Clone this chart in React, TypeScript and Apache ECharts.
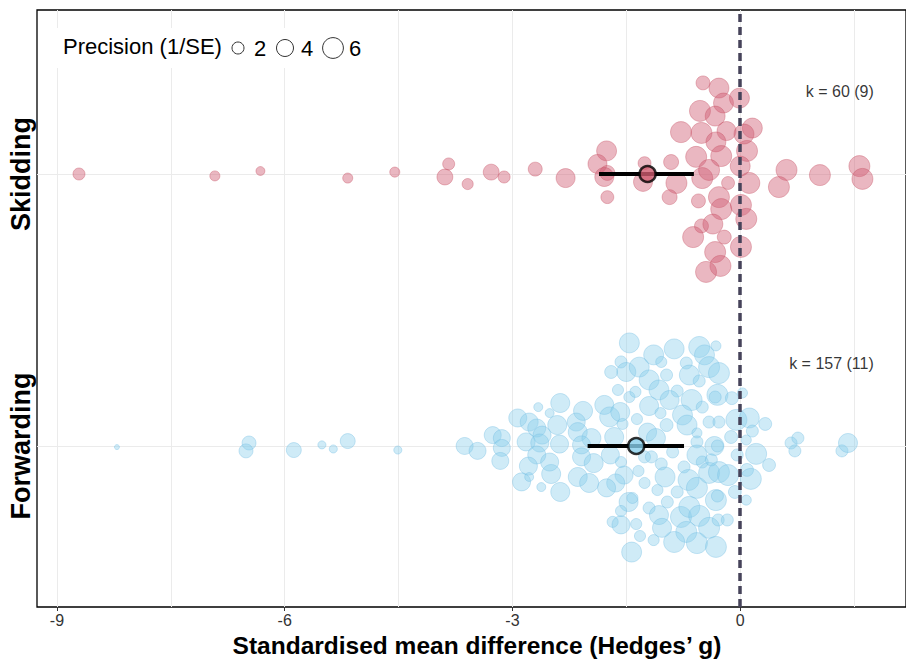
import React, { useEffect, useRef } from "react";
import * as echarts from "echarts";

// Groups sit at y = 1 (Forwarding) and y = 2 (Skidding)
const groups = ["Forwarding", "Skidding"];
const kLabels = ["k = 157 (11)", "k = 60 (9)"];
const kLabelX = 1.76;
const kLabelOffset = 0.303;
const baseColors = ["#87CEEB", "#CF5C71"];
const bubbleColors = ["rgba(135,206,235,0.5)", "rgba(207,92,113,0.55)"];
const bubbleBorders = ["rgba(115,188,225,0.6)", "rgba(198,78,98,0.6)"];
const meanEst = [-1.37, -1.22];
const ciLow = [-2.01, -1.86];
const ciHigh = [-0.74, -0.61];

const xTicks = [-9, -6, -3, 0];
const xGrid = [-9, -7.5, -6, -4.5, -3, -1.5, 0, 1.5];
const yTicks = [1, 2];
const legendValues = [2, 4, 6];
const xTitle = "Standardised mean difference (Hedges\u2019 g)";
const legendTitle = "Precision (1/SE)";

// [Hedges' g, vertical jitter, precision (1/SE)]
const skidding: number[][] = [
  [-8.71, 0.0, 2.0], [-6.92, -0.007, 1.4], [-6.32, 0.011, 1.1], [-5.17, -0.015, 1.4],
  [-4.55, 0.007, 1.4], [-3.84, 0.037, 2.0], [-3.89, -0.011, 3.5], [-3.59, -0.037, 1.7],
  [-3.28, 0.007, 3.5], [-3.11, -0.011, 2.0], [-2.7, 0.018, 2.7], [-2.3, -0.015, 5.0],
  [-1.76, 0.085, 5.5], [-1.88, 0.037, 5.0], [-1.75, 0.004, 3.1], [-1.79, -0.011, 5.0],
  [-1.75, -0.085, 2.3], [-1.26, 0.04, 2.3], [-1.28, -0.029, 5.0], [-0.91, 0.044, 3.1],
  [-0.84, -0.033, 6.1], [-0.93, -0.085, 3.1], [-0.78, 0.154, 6.1], [-0.58, 0.063, 6.1],
  [-0.5, -0.015, 6.1], [-0.55, -0.099, 2.7], [-0.49, 0.335, 2.7], [-0.28, 0.316, 5.5],
  [-0.22, 0.261, 5.5], [-0.01, 0.279, 5.5], [-0.53, 0.232, 6.1], [-0.33, 0.213, 5.5],
  [-0.51, 0.151, 6.1], [-0.18, 0.158, 5.0], [-0.32, 0.118, 5.5], [0.16, 0.169, 5.5],
  [0.09, 0.085, 6.1], [-0.25, 0.066, 6.1], [-0.41, 0.015, 6.1], [0.0, 0.029, 5.5],
  [-0.16, -0.033, 2.3], [0.12, -0.033, 6.1], [0.61, 0.015, 6.1], [0.51, -0.048, 6.1],
  [1.05, -0.004, 6.1], [1.57, 0.029, 6.1], [1.61, -0.018, 6.1], [-0.28, -0.085, 6.1],
  [-0.25, -0.129, 6.1], [0.01, -0.114, 6.1], [0.08, -0.165, 6.1], [-0.51, -0.191, 2.7],
  [-0.36, -0.184, 5.5], [-0.21, -0.232, 2.7], [-0.62, -0.232, 6.1], [0.01, -0.268, 6.1],
  [-0.33, -0.287, 6.1], [-0.26, -0.338, 6.1], [-0.45, -0.36, 6.1], [0.05, 0.147, 5.5],
];

const forwarding: number[][] = [
  [-8.21, -0.004, 0.35], [-6.47, 0.011, 2.7], [-6.51, -0.018, 2.7], [-5.88, -0.015, 3.1],
  [-5.51, 0.004, 0.9], [-5.36, -0.011, 0.9], [-5.17, 0.018, 3.1], [-4.51, -0.015, 0.9],
  [-3.63, 0.0, 4.0], [-3.46, -0.018, 4.0], [-3.26, 0.04, 4.0], [-3.14, 0.029, 4.0],
  [-3.14, -0.007, 4.0], [-3.16, -0.055, 4.0], [-2.93, 0.103, 4.5], [-2.78, 0.088, 4.5],
  [-2.68, 0.066, 4.5], [-2.66, 0.143, 1.1], [-2.51, 0.121, 1.1], [-2.37, 0.158, 5.0],
  [-2.61, 0.04, 4.5], [-2.82, 0.015, 4.5], [-2.64, 0.011, 4.5], [-2.41, 0.077, 5.0],
  [-2.38, 0.007, 4.5], [-2.68, -0.033, 4.5], [-2.79, -0.074, 4.5], [-2.88, -0.132, 4.5],
  [-2.78, -0.114, 1.1], [-2.62, -0.151, 1.1], [-2.49, -0.103, 5.0], [-2.51, -0.059, 4.5],
  [-2.37, -0.169, 5.0], [-2.07, 0.129, 5.0], [-2.16, 0.088, 4.5], [-2.14, 0.051, 5.0],
  [-1.96, 0.029, 5.0], [-2.09, 0.004, 4.5], [-2.09, -0.04, 4.5], [-1.93, -0.063, 5.0],
  [-2.14, -0.114, 5.0], [-1.99, -0.136, 5.0], [-1.79, 0.151, 5.0], [-1.72, 0.107, 5.5],
  [-1.58, 0.125, 5.0], [-1.55, 0.081, 1.7], [-1.66, 0.033, 5.0], [-1.71, -0.033, 4.5],
  [-1.57, -0.059, 1.7], [-1.53, -0.107, 4.5], [-1.64, -0.136, 4.5], [-1.76, -0.154, 4.5],
  [-1.34, -0.092, 1.7], [-1.26, -0.136, 1.7], [-1.09, -0.162, 1.7], [-1.47, -0.206, 5.0],
  [-1.42, -0.191, 1.7], [-1.57, -0.239, 1.7], [-1.68, -0.279, 1.7], [-1.57, -0.29, 4.5],
  [-1.37, -0.287, 1.7], [-1.32, -0.331, 1.7], [-1.43, -0.39, 5.5], [-1.14, -0.346, 1.7],
  [-1.2, -0.228, 2.0], [-1.07, -0.254, 5.0], [-1.03, -0.301, 5.0], [-0.96, -0.206, 2.0],
  [-1.46, 0.379, 5.5], [-1.57, 0.309, 2.0], [-1.7, 0.272, 2.3], [-1.5, 0.272, 5.0],
  [-1.33, 0.29, 5.5], [-1.14, 0.335, 5.5], [-1.04, 0.309, 1.7], [-1.2, 0.243, 5.5],
  [-1.61, 0.206, 1.7], [-1.46, 0.18, 1.7], [-1.38, 0.199, 1.7], [-1.2, 0.147, 5.0],
  [-1.05, 0.121, 1.7], [-1.36, 0.099, 1.7], [-1.22, 0.051, 4.5], [-1.11, 0.029, 5.0],
  [-0.97, 0.077, 2.3], [-1.26, -0.04, 2.0], [-0.97, 0.261, 2.0], [-1.07, 0.206, 5.5],
  [-0.87, 0.357, 5.5], [-0.54, 0.364, 6.1], [-0.47, 0.335, 5.5], [-0.32, 0.368, 1.4],
  [-0.71, 0.305, 2.0], [-0.67, 0.261, 5.5], [-0.54, 0.239, 2.0], [-0.41, 0.29, 6.1],
  [-0.28, 0.268, 6.1], [-0.83, 0.202, 2.0], [-0.93, 0.169, 5.0], [-0.64, 0.169, 6.1],
  [-0.5, 0.143, 2.0], [-0.3, 0.188, 6.1], [-0.33, 0.18, 2.0], [-0.11, 0.176, 2.3],
  [0.03, 0.195, 1.4], [-0.76, 0.114, 5.5], [-0.7, 0.077, 5.5], [-0.57, 0.048, 1.4],
  [-0.41, 0.088, 2.0], [-0.28, 0.088, 2.0], [-0.05, 0.096, 6.1], [0.12, 0.103, 5.5],
  [0.33, 0.081, 2.3], [0.16, 0.055, 2.0], [-0.12, 0.033, 2.3], [0.08, 0.022, 1.4],
  [-0.34, 0.0, 5.0], [-0.3, 0.0, 2.0], [-0.57, 0.015, 2.0], [-0.89, -0.022, 2.0],
  [-0.57, -0.033, 5.5], [-0.5, -0.059, 2.0], [-0.74, -0.077, 2.0], [-1.04, -0.066, 2.0],
  [-1.17, -0.04, 2.0], [-0.99, -0.114, 5.5], [-0.83, -0.169, 2.0], [-0.68, -0.125, 6.1],
  [-0.57, -0.154, 6.1], [-0.41, -0.099, 6.1], [-0.28, -0.096, 6.1], [-0.16, -0.107, 6.1],
  [-0.04, -0.033, 2.0], [0.09, -0.088, 2.3], [0.21, -0.029, 6.1], [0.38, -0.07, 2.3],
  [0.14, -0.121, 6.1], [-0.07, -0.169, 2.3], [-0.32, -0.199, 6.1], [-0.3, -0.184, 2.0],
  [0.08, -0.199, 1.4], [-0.78, -0.261, 6.1], [-0.67, -0.224, 6.1], [-0.54, -0.257, 6.1],
  [-0.41, -0.301, 6.1], [-0.29, -0.272, 2.0], [-0.17, -0.272, 2.0], [-0.71, -0.316, 6.1],
  [-0.87, -0.353, 6.1], [-0.57, -0.357, 6.1], [-0.32, -0.371, 6.1], [0.67, 0.011, 2.0],
  [0.76, 0.029, 2.0], [0.72, -0.018, 2.0], [1.34, -0.018, 2.0], [1.42, 0.011, 5.0],
  [-0.38, -0.051, 2.0],
];

const groupData = [forwarding, skidding];

const FONT = "'Liberation Sans', Arial, Helvetica, sans-serif";
const sizeOf = (p: number) => 8.5 * Math.sqrt(p);

export default function App() {
  const ref = useRef<HTMLDivElement>(null);

  useEffect(() => {
    document.body.style.margin = "0";
    if (!ref.current) return;
    const chart = echarts.init(ref.current, null, { renderer: "svg" });

    const bubbleSeries = groupData.map((rows, gi) => ({
      type: "scatter",
      name: groups[gi],
      data: rows.map(([g, j, p]) => [g, gi + 1 + j, p]),
      symbol: "circle",
      symbolSize: (v: number[]) => sizeOf(v[2]),
      itemStyle: {
        color: bubbleColors[gi],
        borderColor: bubbleBorders[gi],
        borderWidth: 0.8,
      },
      z: 3,
      silent: true,
    }));

    const ciSeries = groups.map((_, gi) => ({
      type: "line",
      data: [
        [ciLow[gi], gi + 1],
        [ciHigh[gi], gi + 1],
      ],
      symbol: "none",
      lineStyle: { color: "#000", width: 4 },
      z: 6,
      silent: true,
    }));

    const meanSeries = {
      type: "scatter",
      data: groups.map((_, gi) => ({
        value: [meanEst[gi], gi + 1],
        itemStyle: { color: baseColors[gi] },
      })),
      symbol: "circle",
      symbolSize: 16,
      itemStyle: { borderColor: "#000", borderWidth: 2.5 },
      z: 7,
      silent: true,
    };

    const kSeries = {
      type: "scatter",
      data: groups.map((_, gi) => ({
        value: [kLabelX, gi + 1 + kLabelOffset],
        label: { formatter: kLabels[gi] },
      })),
      symbolSize: 0,
      label: {
        show: true,
        position: "left",
        distance: 0,
        color: "#000",
        fontSize: 16,
        fontFamily: FONT,
      },
      z: 8,
      silent: true,
    };

    const gridSeries = {
      type: "line",
      data: [],
      z: 1,
      markLine: {
        silent: true,
        symbol: "none",
        z: 1,
        label: { show: false },
        lineStyle: { color: "#ebebeb", width: 1, type: "solid" },
        data: [
          ...xGrid.map((v) => ({ xAxis: v })),
          ...yTicks.map((v) => ({ yAxis: v })),
        ],
      },
    };

    const zeroSeries = {
      type: "line",
      data: [],
      z: 9,
      markLine: {
        silent: true,
        symbol: "none",
        z: 9,
        label: { show: false },
        lineStyle: { color: "#46435a", width: 3.5, type: [8, 5] },
        data: [{ xAxis: 0 }],
      },
    };

    const legendX = [238, 285, 333];
    const graphic: any[] = [
      {
        type: "rect",
        shape: { x: 56, y: 28, width: 314, height: 40 },
        style: { fill: "#fff" },
        z: 50,
      },
      {
        type: "text",
        left: 63,
        top: 35,
        z: 51,
        style: { text: legendTitle, fontSize: 22, fontFamily: FONT, fill: "#000" },
      },
      ...legendValues.flatMap((v, i) => [
        {
          type: "circle",
          z: 51,
          shape: { cx: legendX[i], cy: 48, r: sizeOf(v) / 2 },
          style: { fill: "none", stroke: "#333", lineWidth: 1 },
        },
        {
          type: "text",
          z: 51,
          x: legendX[i] + 16,
          y: 48,
          style: {
            text: String(v),
            fontSize: 22,
            fontFamily: FONT,
            fill: "#000",
            verticalAlign: "middle",
          },
        },
      ]),
    ];

    chart.setOption({
      animation: false,
      backgroundColor: "#fff",
      grid: {
        left: 37,
        top: 10,
        right: -1,
        bottom: 60,
        show: true,
        borderColor: "#000",
        borderWidth: 1.3,
        backgroundColor: "transparent",
      },
      xAxis: {
        type: "value",
        min: -9.263,
        max: 2.184,
        axisLine: { show: false },
        axisTick: {
          show: true,
          customValues: xTicks,
          length: 4,
          lineStyle: { color: "#333" },
        },
        axisLabel: {
          customValues: xTicks,
          color: "#333",
          fontSize: 16,
          fontFamily: FONT,
          margin: 5,
        },
        splitLine: { show: false },
        name: xTitle,
        nameLocation: "middle",
        nameGap: 25,
        nameTextStyle: {
          color: "#000",
          fontSize: 24.5,
          fontWeight: "bold",
          fontFamily: FONT,
          padding: [0, 0, 0, 11],
        },
      },
      yAxis: {
        type: "value",
        min: 0.408,
        max: 2.603,
        axisLine: { show: false },
        axisTick: {
          show: true,
          customValues: yTicks,
          length: 4,
          lineStyle: { color: "#333" },
        },
        axisLabel: {
          customValues: yTicks,
          formatter: (v: number) => groups[Math.round(v) - 1] ?? "",
          rotate: 90,
          color: "#000",
          fontSize: 27,
          fontWeight: "bold",
          fontFamily: FONT,
          margin: 3,
        },
        splitLine: { show: false },
      },
      graphic,
      series: [gridSeries, ...bubbleSeries, zeroSeries, ...ciSeries, meanSeries, kSeries],
    });

    return () => chart.dispose();
  }, []);

  return <div ref={ref} style={{ width: 906, height: 667 }} />;
}
